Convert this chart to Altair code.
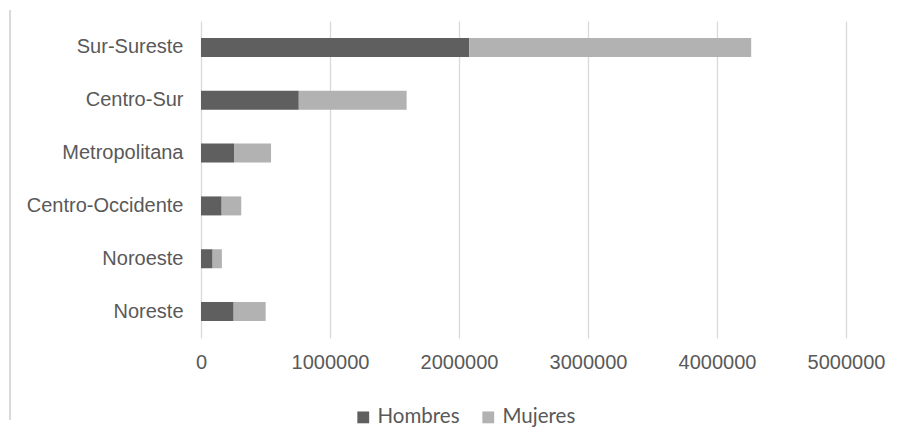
import altair as alt
import pandas as pd

regions = ["Sur-Sureste", "Centro-Sur", "Metropolitana", "Centro-Occidente", "Noroeste", "Noreste"]
hombres = [2080000, 758000, 256000, 160000, 90000, 253000]
mujeres = [2185000, 836000, 287000, 152000, 72000, 248000]
series = ["Hombres", "Mujeres"]
colors = ["#5f5f5f", "#b2b2b2"]
x_ticks = [0, 1000000, 2000000, 3000000, 4000000, 5000000]

rows = []
for r, h, m in zip(regions, hombres, mujeres):
    rows.append({"region": r, "sexo": "Hombres", "valor": h, "ord": 0})
    rows.append({"region": r, "sexo": "Mujeres", "valor": m, "ord": 1})
df = pd.DataFrame(rows)

bars = alt.Chart(df).mark_bar(size=19).encode(
    y=alt.Y("region:N", sort=regions, title=None,
            scale=alt.Scale(paddingInner=0.64, paddingOuter=0.32),
            axis=alt.Axis(labelFont="Liberation Sans", labelFontSize=20, labelColor="#595959",
                          labelPadding=18, ticks=False, domain=False, grid=False)),
    x=alt.X("valor:Q", stack="zero", title=None,
            scale=alt.Scale(domain=[0, 5000000], nice=False),
            axis=alt.Axis(values=x_ticks, format="d", labelFont="Liberation Sans", labelFontSize=20,
                          labelColor="#595959", labelPadding=14, ticks=False, domain=False,
                          labelFlush=False, labelOverlap=False,
                          gridColor="#d9d9d9", gridWidth=1.3)),
    color=alt.Color("sexo:N", sort=series, scale=alt.Scale(domain=series, range=colors),
                    legend=alt.Legend(title=None, orient="none", direction="horizontal",
                                      legendX=152, legendY=386, symbolType="square", symbolSize=140,
                                      symbolStrokeWidth=0, labelFont="Lato", labelFontSize=20.5,
                                      labelColor="#595959", columnPadding=18, labelOffset=4)),
    order=alt.Order("ord:Q"),
)

border = alt.Chart(df).mark_rule(color="#d9d9d9", strokeWidth=1.3, clip=False).encode(
    x=alt.value(-191), y=alt.value(-11), y2=alt.value(399)
)

chart = alt.layer(border, bars).properties(
    width=645, height=317,
    padding={"left": 201, "top": 21, "right": 60, "bottom": 89},
    autosize=alt.AutoSizeParams(type="none"),
    background="white",
).configure_view(stroke=None)

chart.save("out.html", embed_options={"renderer": "svg", "actions": False})
